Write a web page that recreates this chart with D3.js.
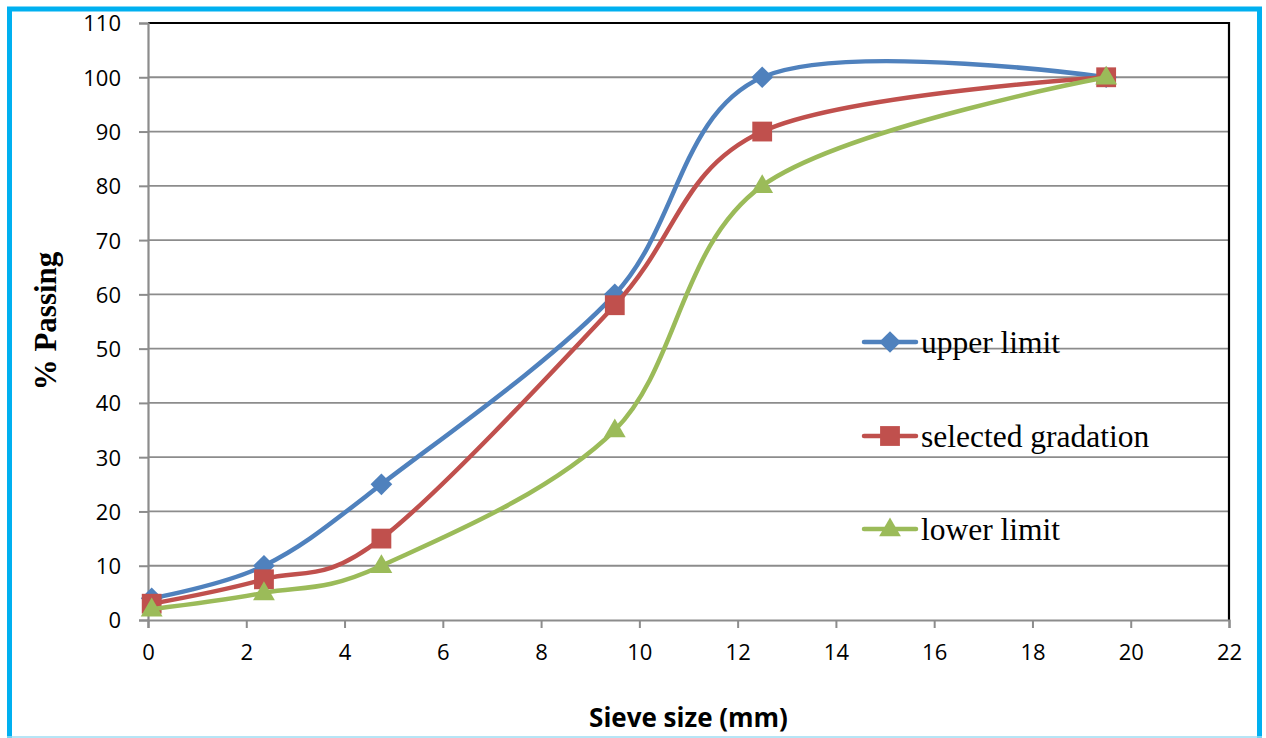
<!DOCTYPE html>
<html>
<head>
<meta charset="utf-8">
<script src="https://cdn.jsdelivr.net/npm/d3@7"></script>
<style>
  html, body { margin: 0; padding: 0; background: #fff; }
  svg { display: block; }
</style>
</head>
<body>
<svg id="chart" width="1266" height="738"></svg>
<script>
// Sieve sizes (mm) and percent passing for each gradation curve
const sieveSizes = [0.075, 2.36, 4.75, 9.5, 12.5, 19.5];
const upperLimit = [4, 10, 25, 60, 100, 100];
const selectedGradation = [3, 7.5, 15, 58, 90, 100];
const lowerLimit = [2, 5, 10, 35, 80, 100];
const seriesNames = ["upper limit", "selected gradation", "lower limit"];
const xTicks = [0, 2, 4, 6, 8, 10, 12, 14, 16, 18, 20, 22];
const yTicks = [0, 10, 20, 30, 40, 50, 60, 70, 80, 90, 100, 110];

const colors = ["#4F81BD", "#C0504D", "#9BBB59"];
const shapes = [d3.symbolDiamond2, d3.symbolSquare2, d3.symbolTriangle2];

const svg = d3.select("#chart");
const plot = { left: 148, right: 1229, top: 23, bottom: 620 };

const x = d3.scaleLinear().domain([0, 22]).range([plot.left, plot.right]);
const y = d3.scaleLinear().domain([0, 110]).range([plot.bottom, plot.top]);

// Outer frame
svg.append("rect")
  .attr("x", 9.5).attr("y", 9)
  .attr("width", 1250).attr("height", 740)
  .attr("fill", "none").attr("stroke", "#00B0F0").attr("stroke-width", 5);
svg.append("line")
  .attr("x1", 7).attr("x2", 1262).attr("y1", 737).attr("y2", 737)
  .attr("stroke", "#9EDDF3").attr("stroke-width", 1.5);

// Horizontal gridlines
svg.append("g").selectAll("line")
  .data(yTicks.filter(v => v > 0 && v < 110))
  .join("line")
  .attr("x1", plot.left).attr("x2", plot.right)
  .attr("y1", d => y(d)).attr("y2", d => y(d))
  .attr("stroke", "#8C8C8C").attr("stroke-width", 1.8);

// Plot-area border (top and right)
svg.append("path")
  .attr("d", `M${plot.left},${plot.top}H${plot.right}V${plot.bottom}`)
  .attr("fill", "none").attr("stroke", "#000").attr("stroke-width", 2.2);

// Axes
const xAxis = d3.axisBottom(x).tickValues(xTicks).tickSize(8).tickPadding(16)
  .tickFormat(d3.format("d"));
const yAxis = d3.axisLeft(y).tickValues(yTicks).tickSize(9).tickPadding(18)
  .tickFormat(d3.format("d"));

const gx = svg.append("g").attr("transform", `translate(0,${plot.bottom})`).call(xAxis);
const gy = svg.append("g").attr("transform", `translate(${plot.left},0)`).call(yAxis);
[gx, gy].forEach(g => {
  g.select(".domain").attr("stroke", "#8C8C8C").attr("stroke-width", 2.2);
  g.selectAll(".tick line").attr("stroke", "#8C8C8C").attr("stroke-width", 2);
  g.selectAll(".tick text")
    .attr("fill", "#000")
    .style("font-family", "'Open Sans', sans-serif")
    .style("font-size", "22px");
});
gy.selectAll(".tick text").attr("dy", "0.36em");

// Axis titles
svg.append("text")
  .attr("x", (plot.left + plot.right) / 2).attr("y", 727)
  .attr("text-anchor", "middle")
  .style("font-family", "'Open Sans', sans-serif")
  .style("font-weight", "bold").style("font-size", "26px")
  .text("Sieve size (mm)");

svg.append("text")
  .attr("transform", "translate(56,321) rotate(-90)")
  .attr("text-anchor", "middle")
  .style("font-family", "'Liberation Serif', 'Times New Roman', serif")
  .style("font-weight", "bold").style("font-size", "31px")
  .text("% Passing");

// Smoothed curves with markers
const series = [upperLimit, selectedGradation, lowerLimit].map((vals, i) => ({
  name: seriesNames[i],
  color: colors[i],
  shape: shapes[i],
  points: sieveSizes.map((s, j) => ({ x: s, y: vals[j] }))
}));

const line = d3.line()
  .x(d => x(d.x)).y(d => y(d.y))
  .curve(d3.curveCardinal.tension(0));

const symbolSizes = [300, 500, 340];

series.forEach((s, i) => {
  const g = svg.append("g");
  g.append("path")
    .attr("d", line(s.points))
    .attr("fill", "none")
    .attr("stroke", s.color)
    .attr("stroke-width", 4.5)
    .attr("stroke-linejoin", "round")
    .attr("stroke-linecap", "round");
  g.selectAll("path.marker")
    .data(s.points)
    .join("path")
    .attr("class", "marker")
    .attr("transform", d => `translate(${x(d.x)},${y(d.y) + (i === 2 ? 1 : 0)})`)
    .attr("d", d3.symbol().type(s.shape).size(symbolSizes[i]))
    .attr("fill", s.color);
});

// Legend
const legendY = [342, 436, 529];
const legend = svg.append("g");
series.forEach((s, i) => {
  const g = legend.append("g").attr("transform", `translate(0,${legendY[i]})`);
  g.append("line")
    .attr("x1", 864).attr("x2", 916)
    .attr("stroke", s.color).attr("stroke-width", 4.5)
    .attr("stroke-linecap", "round");
  g.append("path")
    .attr("transform", `translate(890,${i === 2 ? 1 : 0})`)
    .attr("d", d3.symbol().type(s.shape).size(symbolSizes[i]))
    .attr("fill", s.color);
  g.append("text")
    .attr("x", 921).attr("y", 11)
    .style("font-family", "'Liberation Serif', 'Times New Roman', serif")
    .style("font-size", "31.5px")
    .attr("fill", "#000")
    .text(s.name);
});
</script>
</body>
</html>
